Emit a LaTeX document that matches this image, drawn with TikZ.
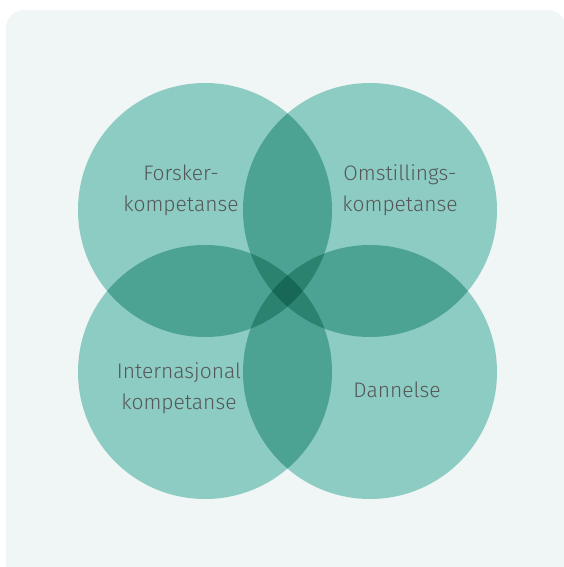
\documentclass[tikz,border=0pt]{standalone}
\usepackage{fontspec}
\setmainfont{Fira Sans Light}
\usepackage{tikz}
\usetikzlibrary{positioning}
\definecolor{bgpanel}{RGB}{240,245,245}
\definecolor{ringfill}{RGB}{141,204,194}
\definecolor{labelgrey}{RGB}{85,87,87}

\begin{document}
\begin{tikzpicture}[x=1pt,y=1pt,
  ring/.style={circle,fill=ringfill,minimum size=254pt,inner sep=0pt},
  lbl/.style={text=labelgrey,font=\fontsize{21}{31}\selectfont,align=center}]
  \useasboundingbox (0,0) rectangle (564,-567);
  \fill[bgpanel,rounded corners=18pt] (6,-10) rectangle (566,-590);
  \begin{scope}[blend group=multiply]
  \node[ring] (forsker) at (205,-210) {};
  \node[ring] (omstilling) at (370,-210) {};
  \node[ring] (internasjonal) at (205,-372) {};
  \node[ring] (dannelse) at (370,-372) {};
  \end{scope}
  \node[lbl] (forskertxt) at (181,-190) {Forsker-\\kompetanse};
  \node[lbl] (omstillingtxt) at (400,-190) {Omstillings-\\kompetanse};
  \node[lbl] (internasjonaltxt) at (179,-388) {Internasjonal\\kompetanse};
  \node[lbl] (dannelsetxt) at (397,-390) {Dannelse};
\end{tikzpicture}
\end{document}
